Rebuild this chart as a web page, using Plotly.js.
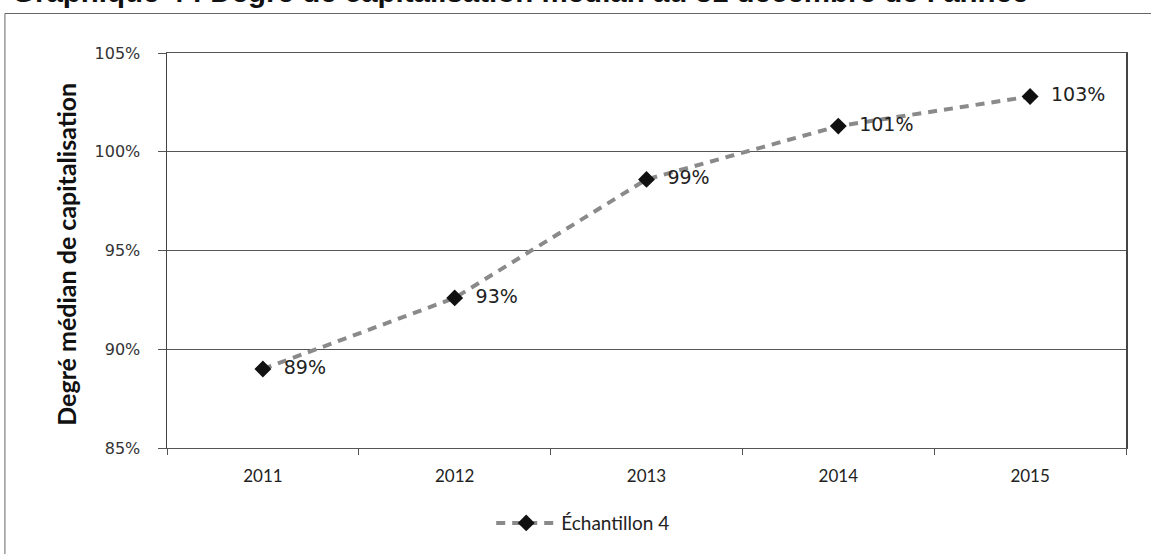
<!DOCTYPE html>
<html>
<head>
<meta charset="utf-8">
<script src="https://cdn.plot.ly/plotly-3.0.1.min.js"></script>
<style>
  html, body { margin: 0; padding: 0; background: #fff; }
  #chart { width: 1151px; height: 554px; }
</style>
</head>
<body>
<div id="chart"></div>
<script>
const years = ['2011', '2012', '2013', '2014', '2015'];
const medianFunding = [0.890, 0.926, 0.986, 1.013, 1.028];
const seriesName = 'Échantillon 4';
const yTickVals = [0.85, 0.90, 0.95, 1.00, 1.05];
const chartTitle = 'Graphique 4 : Degré de capitalisation médian au 31 décembre de l\u2019année';
const yTitle = 'Degré médian de capitalisation';

const lineTrace = {
  x: years,
  y: medianFunding,
  name: seriesName,
  type: 'scatter',
  mode: 'lines+markers',
  line: { color: '#8a8a8a', width: 4, dash: '9px,7px' },
  marker: { symbol: 'diamond', size: 13, color: '#111' },
  cliponaxis: false
};

const labelTrace = {
  x: years,
  y: medianFunding,
  type: 'scatter',
  mode: 'text',
  showlegend: false,
  texttemplate: '\u2002\u2002\u200A%{y:.0%}',
  textposition: 'middle right',
  textfont: { family: 'DejaVu Sans', size: 19, color: '#222' },
  cliponaxis: false
};

const layout = {
  width: 1151,
  height: 554,
  margin: { l: 167, r: 25, t: 53, b: 102 },
  paper_bgcolor: '#fff',
  plot_bgcolor: '#fff',
  showlegend: true,
  legend: {
    orientation: 'h', x: 0.434, xanchor: 'center', y: -0.19, yanchor: 'middle',
    itemwidth: 60,
    font: { family: 'Lato', size: 19, color: '#222' }
  },
  xaxis: {
    type: 'category',
    range: [-0.5, 4.5],
    tickson: 'boundaries',
    ticks: 'outside', ticklen: 6, tickcolor: '#555',
    showline: true, linecolor: '#555', linewidth: 1, mirror: true,
    showgrid: false,
    ticklabelstandoff: 13,
    tickfont: { family: 'Lato', size: 17, color: '#222' },
    fixedrange: true
  },
  yaxis: {
    range: [0.85, 1.05],
    tickvals: yTickVals,
    tickformat: '.0%',
    ticks: 'outside', ticklen: 8, tickcolor: '#555',
    showline: true, linecolor: '#444', linewidth: 1.5, mirror: true,
    showgrid: true, gridcolor: '#555', gridwidth: 1,
    zeroline: false,
    ticklabelstandoff: 14,
    tickfont: { family: 'DejaVu Sans', size: 16, color: '#333' },
    fixedrange: true
  },
  annotations: [
    {
      text: yTitle, textangle: -90, showarrow: false,
      xref: 'paper', yref: 'paper', x: -0.105, y: 0.49,
      xanchor: 'center', yanchor: 'middle',
      font: { family: 'Lato', size: 25, color: '#111', weight: 'bold' }
    },
    {
      text: '<b>' + chartTitle + '</b>', showarrow: false,
      xref: 'paper', yref: 'paper', x: -0.164, y: 1.11,
      xanchor: 'left', yanchor: 'bottom',
      font: { family: 'Liberation Sans', size: 29.5, color: '#111' }
    }
  ],
  shapes: [
    {
      type: 'rect', xref: 'paper', yref: 'paper',
      x0: -0.169, x1: 1.04, y0: -0.3, y1: 1.1,
      line: { color: '#666', width: 1 }, fillcolor: 'rgba(0,0,0,0)', layer: 'below'
    }
  ]
};

Plotly.newPlot('chart', [lineTrace, labelTrace], layout, { displayModeBar: false, staticPlot: true });
</script>
</body>
</html>
